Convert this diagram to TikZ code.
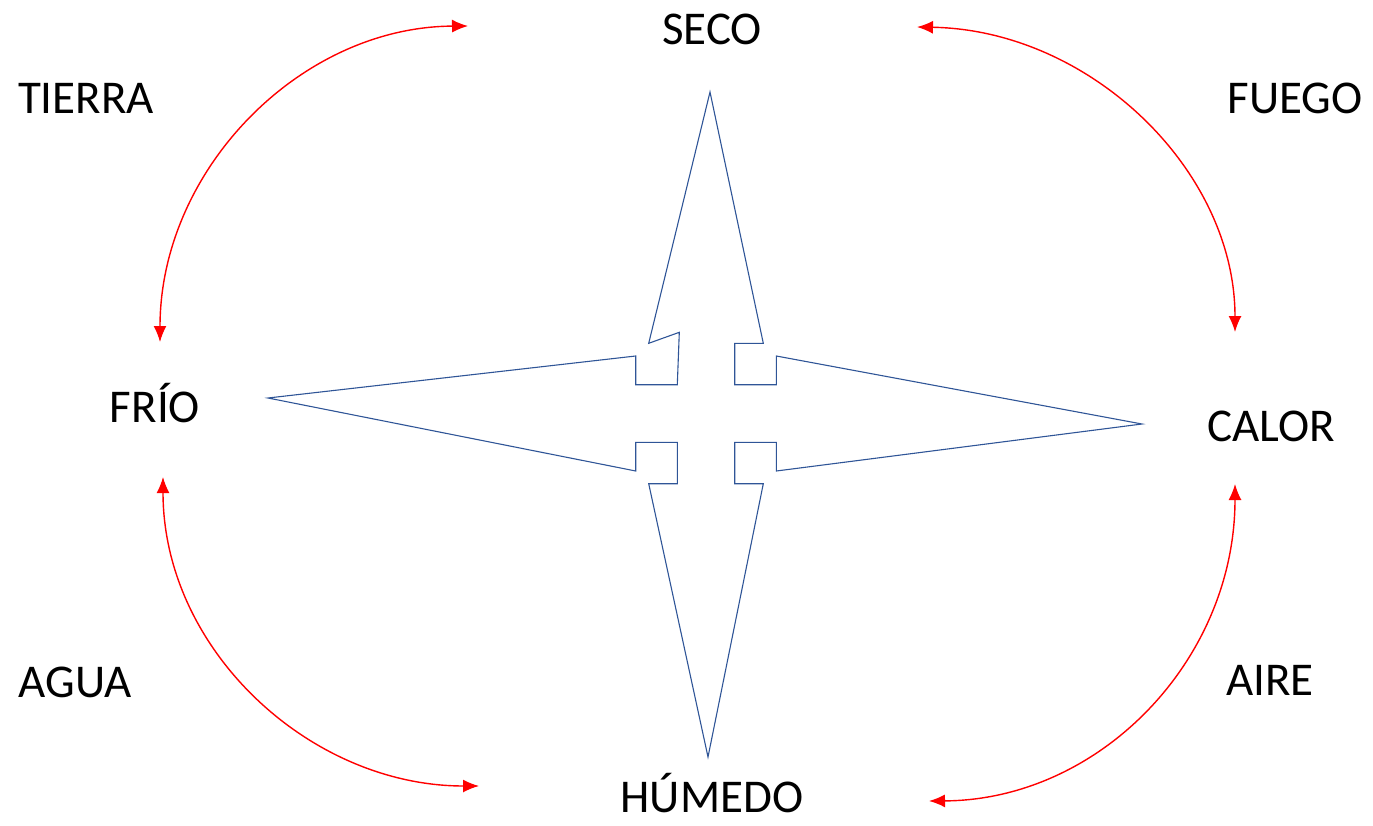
\documentclass[tikz,border=0pt]{standalone}
\usepackage{fontspec}
\setmainfont{Carlito}
\usetikzlibrary{arrows.meta}
\definecolor{starblue}{HTML}{2F5597}
\definecolor{arcred}{HTML}{FF0000}
\tikzset{
  lbl/.style={font=\fontsize{47}{50}\selectfont, inner sep=0pt, anchor=center},
  arc/.style={draw=arcred, line width=1.4pt, {Latex[length=16pt,width=13pt]}-{Latex[length=16pt,width=13pt]}},
  star/.style={draw=starblue, line width=1.1pt, line join=miter}
}
\begin{document}
\begin{tikzpicture}[x=1pt,y=-1pt]
\useasboundingbox (0,0) rectangle (1373,826);
% labels
\node[lbl] (seco) at (712,29) {SECO};
\node[lbl] (humedo) at (712,793) {HÚMEDO};
\node[lbl] (frio) at (155,403) {FRÍO};
\node[lbl] (calor) at (1271,426) {CALOR};
\node[lbl] (tierra) at (86,98) {TIERRA};
\node[lbl] (fuego) at (1295,98) {FUEGO};
\node[lbl] (agua) at (75,682) {AGUA};
\node[lbl] (aire) at (1270,680) {AIRE};
% arc end points
\coordinate (tlA) at (160,342);
\coordinate (tlB) at (468,26);
\coordinate (trA) at (917,27);
\coordinate (trB) at (1235,332);
\coordinate (blA) at (163,477);
\coordinate (blB) at (479,786);
\coordinate (brA) at (1235,484);
\coordinate (brB) at (929,801);
\draw[arc] (tlA) .. controls (160,170) and (300,27) .. (tlB);
\draw[arc] (trA) .. controls (1090,30) and (1235,170) .. (trB);
\draw[arc] (blA) .. controls (163,650) and (310,786) .. (blB);
\draw[arc] (brA) .. controls (1235,660) and (1100,800) .. (brB);
% star
\draw[star] (710,92) -- (648.7,343.3) -- (679.3,332.3) -- (677.3,384.7) -- (635.7,384.7) -- (635.7,356)
  -- (268,398) -- (635.7,471) -- (635.7,442.3) -- (677.3,442.3) -- (677.3,483.7) -- (648.7,483.7)
  -- (708,757) -- (763.3,483.7) -- (734.7,483.7) -- (734.7,442.3) -- (776.3,442.3) -- (776.3,471)
  -- (1142,424) -- (776.3,356) -- (776.3,384.7) -- (734.7,384.7) -- (734.7,343.3) -- (763.3,343.3) -- cycle;
\end{tikzpicture}
\end{document}
